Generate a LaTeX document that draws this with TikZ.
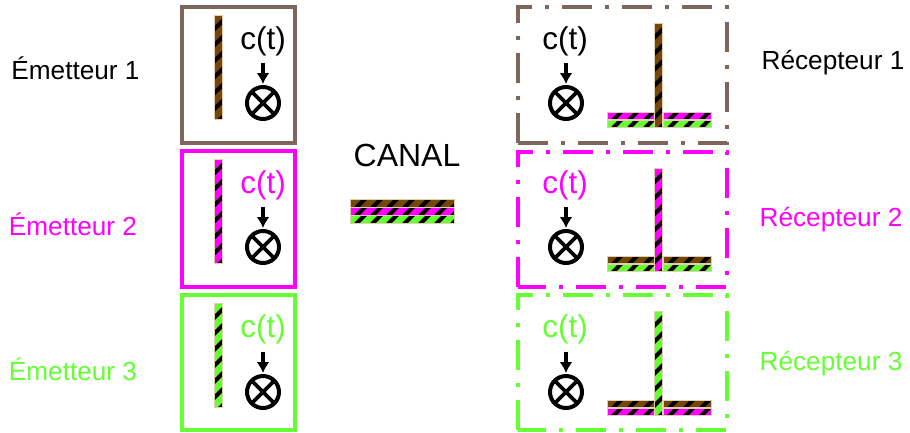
\documentclass[tikz,border=0pt]{standalone}
\usepackage{fontspec}
\setmainfont{Liberation Sans}
\usetikzlibrary{arrows.meta}
\definecolor{cbrown}{RGB}{127,102,92}
\definecolor{cmag}{RGB}{255,0,255}
\definecolor{cgreen}{RGB}{102,255,51}
\definecolor{sbrown}{RGB}{115,70,10}
\definecolor{sedge}{RGB}{225,205,175}
\tikzset{x=1pt,y=-1pt,
 lab/.style={inner sep=0pt,font=\fontsize{26.2}{26.2}\selectfont},
 ct/.style={inner sep=0pt,font=\fontsize{31.5}{31.5}\selectfont},
 mix/.style={circle,draw=black,line width=4pt,minimum size=32pt,inner sep=0pt,
   path picture={\draw[line width=3.6pt]
     (path picture bounding box.north west)--(path picture bounding box.south east)
     (path picture bounding box.north east)--(path picture bounding box.south west);}},
 arr/.style={line width=3.3pt,-{Latex[length=11pt,width=13pt]},shorten >=1pt},
 solidbox/.style={line width=4pt,miter limit=10},
 dashbox/.style={line width=4pt,dash pattern=on 30pt off 13pt on 4pt off 13pt}}
% \sbar{x0}{y0}{x1}{y1}{color}: bar with 45 degree black stripes
\newcommand{\sbar}[5]{%
 \begin{scope}
  \clip (#1,#2) rectangle (#3,#4);
  \fill[#5] (#1,#2) rectangle (#3,#4);
  \pgfmathsetmacro{\sw}{#3-#1}\pgfmathsetmacro{\sh}{#4-#2}
  \pgfmathtruncatemacro{\sn}{(\sw+\sh)/16+2}
  \foreach \k in {0,...,\sn}{
    \draw[black,line width=4.2pt] ({#1-\sh+\k*16-3},{#4+1}) -- ++({\sh+2},{-\sh-2});
  }
 \end{scope}
 \draw[sedge,line width=0.9pt] (#1,#2) rectangle (#3,#4);}
\begin{document}
\begin{tikzpicture}
\useasboundingbox (0,0) rectangle (910,432);
\fill[white] (0,0) rectangle (910,432);
% emitter boxes
\draw[solidbox,cbrown] (182,7) rectangle (295,143);
\draw[solidbox,cmag] (182,151) rectangle (295,287);
\draw[solidbox,cgreen] (182,295) rectangle (295,430);
\sbar{214.5}{15}{222}{119}{sbrown}
\sbar{214.5}{159}{222}{263}{cmag}
\sbar{214.5}{303.5}{222}{407.5}{cgreen}
% labels
\node[lab] (e1) at (75.5,68) {Émetteur 1};
\node[lab,text=cmag] (e2) at (73,224) {Émetteur 2};
\node[lab,text=cgreen] (e3) at (73,369) {Émetteur 3};
\node[lab] (r1) at (833,62.5) {Récepteur 1};
\node[lab,text=cmag] (r2) at (831,219.5) {Récepteur 2};
\node[lab,text=cgreen] (r3) at (831,363.5) {Récepteur 3};
% canal
\node[ct,font=\fontsize{32}{32}\selectfont] (canal) at (407,155) {CANAL};
\sbar{350.5}{199.5}{454.5}{207}{sbrown}
\sbar{350.5}{207.5}{454.5}{215}{cmag}
\sbar{350.5}{215.5}{454.5}{223}{cgreen}
% emitter c(t)
\node[ct] (c1) at (263,41.5) {c(t)};
\node[mix] (m1) at (263,103) {};
\draw[arr] (263,63) -- (m1);
\node[ct,text=cmag] (c2) at (263,185) {c(t)};
\node[mix] (m2) at (263,247) {};
\draw[arr] (263,207) -- (m2);
\node[ct,text=cgreen] (c3) at (263,329.5) {c(t)};
\node[mix] (m3) at (263,392) {};
\draw[arr] (263,352) -- (m3);
% receiver boxes
\draw[dashbox,cbrown] (518,143) -- (518,7) -- (727,7) -- (727,143) -- cycle;
\draw[dashbox,cmag] (518,287) -- (518,152) -- (727,152) -- (727,287) -- cycle;
\draw[dashbox,cgreen] (518,430) -- (518,295) -- (727,295) -- (727,430) -- cycle;
\node[ct] (c4) at (565,41.5) {c(t)};
\node[mix] (m4) at (566,103) {};
\draw[arr] (566,63) -- (m4);
\node[ct,text=cmag] (c5) at (565,185) {c(t)};
\node[mix] (m5) at (566,247) {};
\draw[arr] (566,207) -- (m5);
\node[ct,text=cgreen] (c6) at (565,329.5) {c(t)};
\node[mix] (m6) at (566,392) {};
\draw[arr] (566,352) -- (m6);
% receiver T bars
\sbar{607}{112}{654}{119}{cmag}
\sbar{663}{112}{711}{119}{cmag}
\sbar{607}{120}{654}{127}{cgreen}
\sbar{663}{120}{711}{127}{cgreen}
\sbar{654.5}{23.5}{662.5}{127.5}{sbrown}
\sbar{607}{256}{654}{263}{sbrown}
\sbar{663}{256}{711}{263}{sbrown}
\sbar{607}{264}{654}{271.5}{cgreen}
\sbar{663}{264}{711}{271.5}{cgreen}
\sbar{654.5}{168}{662.5}{271.5}{cmag}
\sbar{607}{400}{654}{407}{sbrown}
\sbar{663}{400}{711}{407}{sbrown}
\sbar{607}{408}{654}{415}{cmag}
\sbar{663}{408}{711}{415}{cmag}
\sbar{654.5}{311.5}{662.5}{415.5}{cgreen}
\end{tikzpicture}
\end{document}
